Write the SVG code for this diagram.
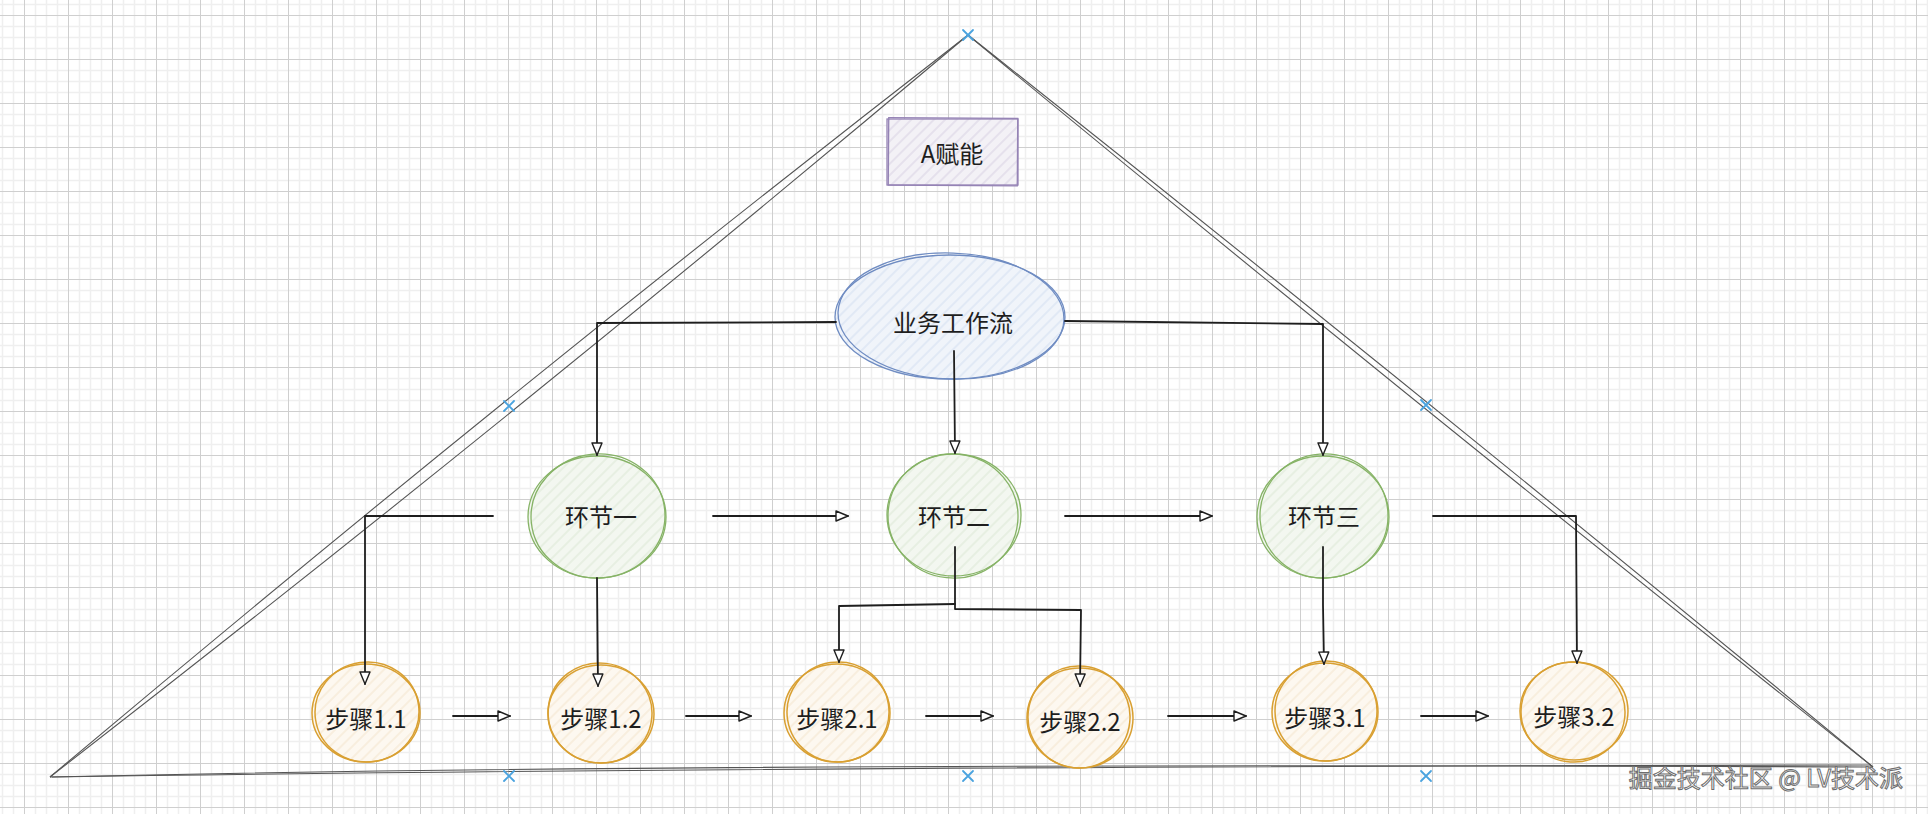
<svg xmlns="http://www.w3.org/2000/svg" width="1928" height="814" viewBox="0 0 1928 814">
<style>
.lbl{font-family:"Noto Sans CJK SC","Noto Sans",sans-serif;font-size:24px;fill:#1e1e1e;text-anchor:middle;dominant-baseline:central}
.tri{fill:none;stroke:#555;stroke-width:1.1}
.con{fill:none;stroke:#1e1e1e;stroke-width:1.8;stroke-linecap:round;stroke-linejoin:round}
.arr{marker-end:url(#ah)}
.mk{stroke:#4aa3df;stroke-width:1.8;stroke-linecap:round}
.blue{stroke:#6f8cc2;stroke-width:1.3}
.green{stroke:#86b366;stroke-width:1.3}
.orange{stroke:#d9a032;stroke-width:1.5}
.purple{stroke:#9583b5;stroke-width:1.3}
.wm{font-family:"Noto Sans CJK SC","Noto Sans",sans-serif;font-size:24px;fill:#ffffff;stroke:#6e6e6e;stroke-width:1}
</style>
<defs>
<pattern id="grid" width="44" height="44" x="24" y="15" patternUnits="userSpaceOnUse">
<rect width="44" height="44" fill="#ffffff"/>
<path d="M11.5 0V44M22.5 0V44M33.5 0V44M0 11.5H44M0 22.5H44M0 33.5H44" stroke="#efefef" stroke-width="1.5"/>
<path d="M0.5 0V44M0 0.5H44" stroke="#cfcfcf" stroke-width="1"/>
</pattern>
<pattern id="hBlue" width="8" height="8" patternUnits="userSpaceOnUse" patternTransform="rotate(45)">
<rect width="8" height="8" fill="#f0f4fa"/><line x1="1" y1="0" x2="1" y2="8" stroke="#d8e2f2" stroke-width="1.2"/>
</pattern>
<pattern id="hGreen" width="8" height="8" patternUnits="userSpaceOnUse" patternTransform="rotate(45)">
<rect width="8" height="8" fill="#f3f7f0"/><line x1="1" y1="0" x2="1" y2="8" stroke="#dfeadA" stroke-width="1.2"/>
</pattern>
<pattern id="hOrange" width="8" height="8" patternUnits="userSpaceOnUse" patternTransform="rotate(45)">
<rect width="8" height="8" fill="#fdf8f0"/><line x1="1" y1="0" x2="1" y2="8" stroke="#f6e8d2" stroke-width="1.2"/>
</pattern>
<pattern id="hPurple" width="8" height="8" patternUnits="userSpaceOnUse" patternTransform="rotate(45)">
<rect width="8" height="8" fill="#f3f1f6"/><line x1="1" y1="0" x2="1" y2="8" stroke="#dcd6e6" stroke-width="1.2"/>
</pattern>
<marker id="ah" markerUnits="userSpaceOnUse" markerWidth="16" markerHeight="14" refX="13" refY="6" orient="auto">
<path d="M1 1 L13 6 L1 11 Z" fill="#ffffff" stroke="#1e1e1e" stroke-width="1.4" stroke-linejoin="round"/>
</marker>
</defs>
<rect width="1928" height="814" fill="url(#grid)"/>

<g id="triangle">
<path class="tri" d="M50 777 Q501.5 396.7 968 35"/>
<path class="tri" d="M50 777 Q516.5 415.3 968 35"/>
<path class="tri" d="M968 35 Q1424.3 396.3 1873 767"/>
<path class="tri" d="M968 35 Q1416.7 405.7 1873 767"/>
<path class="tri" d="M50 777 Q700 762 1873 767"/>
<path class="tri" d="M52 777 Q700 767 1871 765"/>
<g id="markers">
<path class="mk" d="M963 30L973 40M973 30L963 40"/>
<path class="mk" d="M504 401L514 411M514 401L504 411"/>
<path class="mk" d="M1421 400L1431 410M1431 400L1421 410"/>
<path class="mk" d="M504 771L514 781M514 771L504 781"/>
<path class="mk" d="M963 771L973 781M973 771L963 781"/>
<path class="mk" d="M1421 771L1431 781M1431 771L1421 781"/>
</g>
</g>

<g id="node-a-enable">
<rect x="887" y="119" width="131" height="66" fill="url(#hPurple)" class="purple"/>
<rect x="888.5" y="118" width="129" height="67.5" fill="none" class="purple" transform="rotate(0.4 952 152)"/>
<text class="lbl" x="952" y="152">A赋能</text>
</g>

<g id="node-workflow">
<ellipse cx="950" cy="317" rx="115" ry="62" fill="url(#hBlue)" class="blue"/>
<ellipse cx="951" cy="316" rx="113" ry="63" fill="none" class="blue" transform="rotate(2 951 316)"/>
<text class="lbl" x="953" y="321">业务工作流</text>
</g>

<g id="node-link1">
<ellipse cx="597" cy="517" rx="69" ry="61" fill="url(#hGreen)" class="green"/>
<ellipse cx="598" cy="516" rx="67" ry="62" fill="none" class="green" transform="rotate(-5 598 516)"/>
<text class="lbl" x="601" y="515">环节一</text>
</g>
<g id="node-link2">
<ellipse cx="954" cy="515" rx="67" ry="61" fill="url(#hGreen)" class="green"/>
<ellipse cx="953" cy="516" rx="65" ry="62" fill="none" class="green" transform="rotate(6 953 516)"/>
<text class="lbl" x="954" y="515">环节二</text>
</g>
<g id="node-link3">
<ellipse cx="1323" cy="517" rx="66" ry="61" fill="url(#hGreen)" class="green"/>
<ellipse cx="1324" cy="516" rx="64" ry="62" fill="none" class="green" transform="rotate(-4 1324 516)"/>
<text class="lbl" x="1324" y="515">环节三</text>
</g>

<g id="node-step11">
<ellipse cx="366" cy="713" rx="54" ry="49" fill="url(#hOrange)" class="orange"/>
<ellipse cx="367" cy="712" rx="52" ry="50" fill="none" class="orange" transform="rotate(-8 367 712)"/>
<text class="lbl" x="366" y="717">步骤1.1</text>
</g>
<g id="node-step12">
<ellipse cx="601" cy="714" rx="53" ry="49" fill="url(#hOrange)" class="orange"/>
<ellipse cx="600" cy="713" rx="52" ry="50" fill="none" class="orange" transform="rotate(7 600 713)"/>
<text class="lbl" x="601" y="717">步骤1.2</text>
</g>
<g id="node-step21">
<ellipse cx="837" cy="713" rx="53" ry="49" fill="url(#hOrange)" class="orange"/>
<ellipse cx="838" cy="712" rx="51" ry="50" fill="none" class="orange" transform="rotate(-9 838 712)"/>
<text class="lbl" x="837" y="717">步骤2.1</text>
</g>
<g id="node-step22">
<ellipse cx="1080" cy="718" rx="53" ry="50" fill="url(#hOrange)" class="orange"/>
<ellipse cx="1079" cy="717" rx="51" ry="51" fill="none" class="orange" transform="rotate(6 1079 717)"/>
<text class="lbl" x="1080" y="720">步骤2.2</text>
</g>
<g id="node-step31">
<ellipse cx="1325" cy="712" rx="53" ry="49" fill="url(#hOrange)" class="orange"/>
<ellipse cx="1326" cy="711" rx="51" ry="50" fill="none" class="orange" transform="rotate(-6 1326 711)"/>
<text class="lbl" x="1325" y="716">步骤3.1</text>
</g>
<g id="node-step32">
<ellipse cx="1574" cy="711" rx="54" ry="49" fill="url(#hOrange)" class="orange"/>
<ellipse cx="1573" cy="712" rx="52" ry="50" fill="none" class="orange" transform="rotate(8 1573 712)"/>
<text class="lbl" x="1574" y="715">步骤3.2</text>
</g>

<g id="connectors">
<path class="con arr" d="M836 322 L597 323 L597 455"/>
<path class="con arr" d="M954 351 L955 453"/>
<path class="con arr" d="M1065 321 L1323 324 L1323 455"/>
<path class="con arr" d="M493 516 L365 516 L365 684"/>
<path class="con arr" d="M597 578 L598 686"/>
<path class="con arr" d="M713 516 L848 516"/>
<path class="con arr" d="M955 547 L955 609 L1081 610 L1080 686"/>
<path class="con arr" d="M955 604 L839 606 L839 662"/>
<path class="con arr" d="M1065 516 L1212 516"/>
<path class="con arr" d="M1323 547 L1323 605 L1324 664"/>
<path class="con arr" d="M1433 516 L1576 516 L1577 663"/>
<path class="con arr" d="M453 716 L510 716"/>
<path class="con arr" d="M686 716 L751 716"/>
<path class="con arr" d="M926 716 L993 716"/>
<path class="con arr" d="M1168 716 L1246 716"/>
<path class="con arr" d="M1421 716 L1488 716"/>
</g>

<text class="wm" x="1903" y="787" text-anchor="end">掘金技术社区 @ LV技术派</text>
</svg>
